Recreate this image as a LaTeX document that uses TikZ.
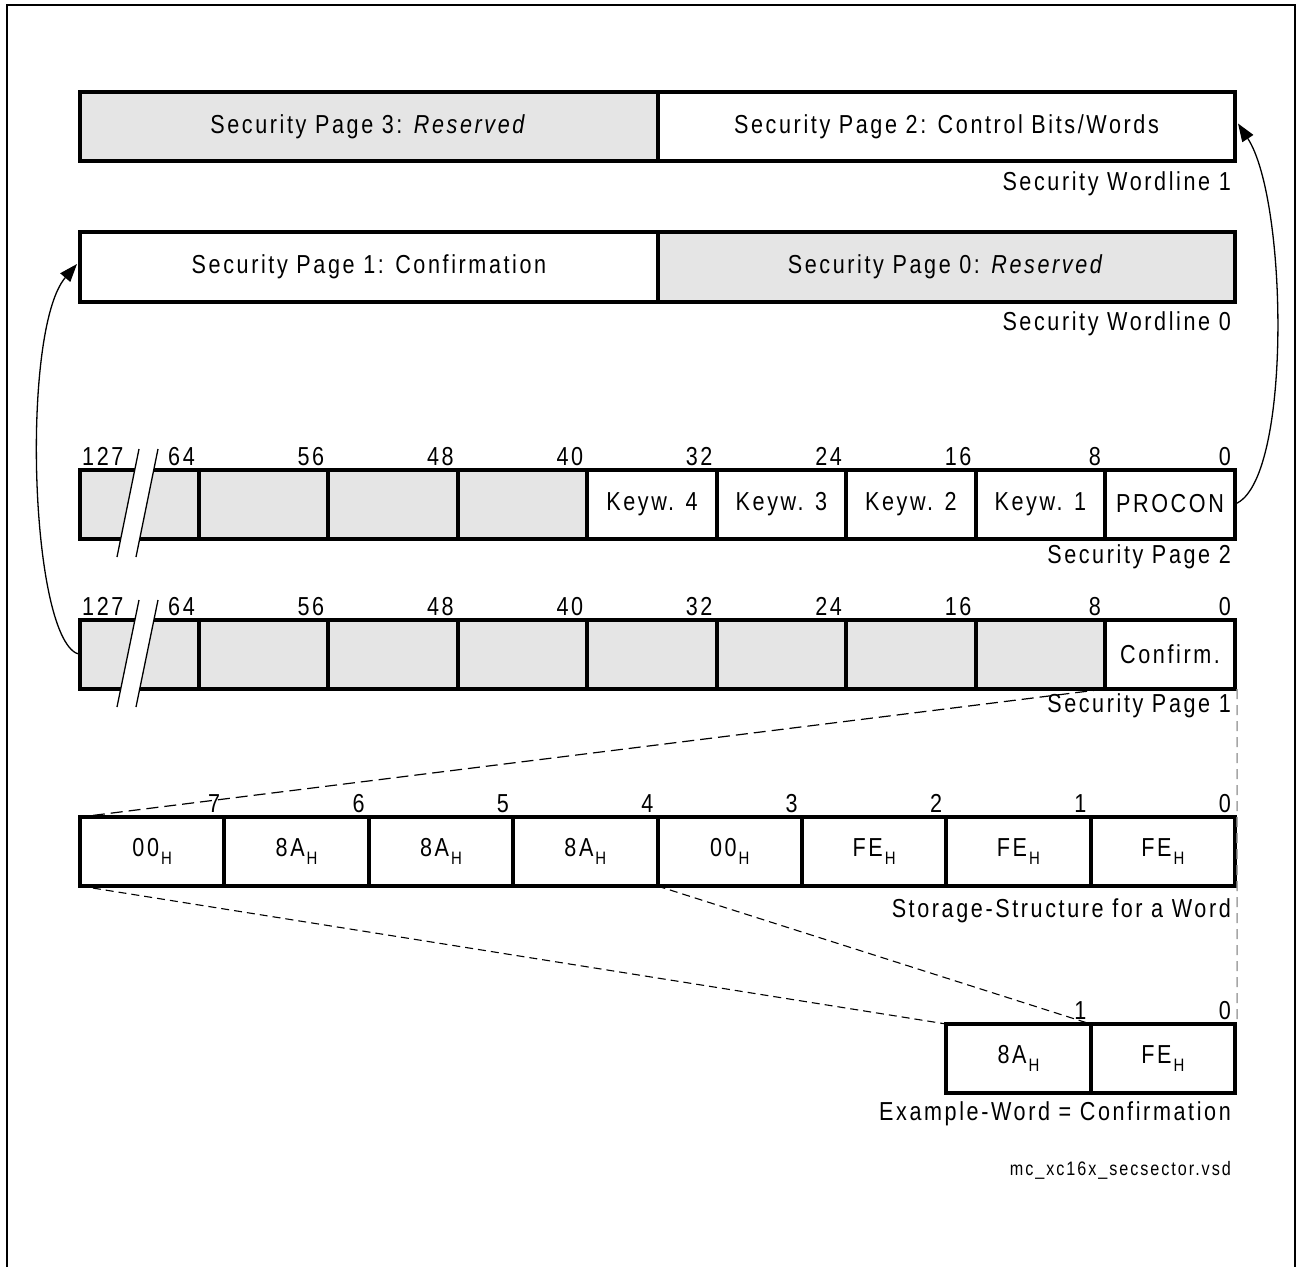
\documentclass[tikz,border=0pt]{standalone}
\usepackage{fontspec}
\setmainfont{Liberation Sans}[FakeStretch=0.83,LetterSpace=10]
\usetikzlibrary{arrows.meta}
\newcommand\mainfs{\fontsize{26}{30}\selectfont}
\newcommand\smallfs{\fontsize{19.5}{23}\selectfont}
\newcommand\hsub{\hspace{2pt}\raisebox{-8pt}{\fontsize{18}{18}\selectfont H}}
\begin{document}
\begin{tikzpicture}[x=1pt,y=-1pt,
  box/.style={draw, line width=4pt, outer sep=0pt, inner sep=0pt, minimum height=69pt, font=\mainfs, fill=white},
  graybox/.style={box, fill=gray!20},
  bitlbl/.style={anchor=base east, inner sep=0pt, font=\mainfs},
  caption/.style={anchor=base east, inner sep=0pt, font=\mainfs},
  conn/.style={line width=1.3pt, -{Triangle[length=18pt,width=13pt]}},
  zoomline/.style={line width=1.2pt, dash pattern=on 12pt off 6pt},
  zoomline2/.style={line width=1.1pt, dash pattern=on 8pt off 5pt},
  guide/.style={line width=1.5pt, draw=gray!70, dash pattern=on 10pt off 6pt},
  breakline/.style={line width=1.3pt}
]
\useasboundingbox (0,0) rectangle (1297,1267);
% outer frame
\draw[line width=2pt] (7,1267) -- (7,5) -- (1295,5) -- (1295,1267);

% Security Wordline 1
\node[graybox, minimum width=578pt] (w3) at (369,126.5) {Security Page 3: \textit{Reserved}};
\node[box, minimum width=577pt] (w2) at (946.5,126.5) {Security Page 2: Control Bits/Words};
\node[caption] (cw1) at (1231,190) {Security Wordline 1};

% Security Wordline 0
\node[box, minimum width=578pt, minimum height=70pt] (w1) at (369,267) {Security Page 1: Confirmation};
\node[graybox, minimum width=577pt, minimum height=70pt] (w0) at (946.5,267) {Security Page 0: \textit{Reserved}};
\node[caption] (cw0) at (1231,330) {Security Wordline 0};

% Security Page 2 row
\begin{scope}[every node/.append style={minimum height=68pt}]
\node[graybox, minimum width=119pt]   (p2c9) at (139.5,504) {};
\node[graybox, minimum width=129.4pt] (p2c8) at (263.7,504) {};
\node[graybox, minimum width=129.5pt] (p2c7) at (393.15,504) {};
\node[graybox, minimum width=129.4pt] (p2c6) at (522.6,504) {};
\node[box, minimum width=129.4pt] (p2c5) at (652,504) {Keyw. 4};
\node[box, minimum width=129.4pt] (p2c4) at (781.4,504) {Keyw. 3};
\node[box, minimum width=129.5pt] (p2c3) at (910.85,504) {Keyw. 2};
\node[box, minimum width=129.4pt] (p2c2) at (1040.3,504) {Keyw. 1};
\node[box, minimum width=130pt]   (p2c1) at (1170,504) {PROCON};
\end{scope}
\node[anchor=base west, inner sep=0pt, font=\mainfs] (p2n127) at (82,465) {127};
\node[bitlbl] (p2n64) at (195,465) {64};
\node[bitlbl] (p2n56) at (324.4,465) {56};
\node[bitlbl] (p2n48) at (453.9,465) {48};
\node[bitlbl] (p2n40) at (583.3,465) {40};
\node[bitlbl] (p2n32) at (712.7,465) {32};
\node[bitlbl] (p2n24) at (842.1,465) {24};
\node[bitlbl] (p2n16) at (971.6,465) {16};
\node[bitlbl] (p2n8) at (1101,465) {8};
\node[bitlbl] (p2n0) at (1231,465) {0};
\node[caption] (cp2) at (1231,563) {Security Page 2};
% break mark row 2
\fill[white] (139,449) -- (158,449) -- (136,557) -- (117,557) -- cycle;
\draw[breakline] (139,449) -- (117,557);
\draw[breakline] (158,449) -- (136,557);

% Security Page 1 row
\node[graybox, minimum width=119pt]   (p1c9) at (139.5,654.5) {};
\node[graybox, minimum width=129.4pt] (p1c8) at (263.7,654.5) {};
\node[graybox, minimum width=129.5pt] (p1c7) at (393.15,654.5) {};
\node[graybox, minimum width=129.4pt] (p1c6) at (522.6,654.5) {};
\node[graybox, minimum width=129.4pt] (p1c5) at (652,654.5) {};
\node[graybox, minimum width=129.4pt] (p1c4) at (781.4,654.5) {};
\node[graybox, minimum width=129.5pt] (p1c3) at (910.85,654.5) {};
\node[graybox, minimum width=129.4pt] (p1c2) at (1040.3,654.5) {};
\node[box, minimum width=130pt]       (p1c1) at (1170,654.5) {Confirm.};
\node[anchor=base west, inner sep=0pt, font=\mainfs] (p1n127) at (82,615) {127};
\node[bitlbl] (p1n64) at (195,615) {64};
\node[bitlbl] (p1n56) at (324.4,615) {56};
\node[bitlbl] (p1n48) at (453.9,615) {48};
\node[bitlbl] (p1n40) at (583.3,615) {40};
\node[bitlbl] (p1n32) at (712.7,615) {32};
\node[bitlbl] (p1n24) at (842.1,615) {24};
\node[bitlbl] (p1n16) at (971.6,615) {16};
\node[bitlbl] (p1n8) at (1101,615) {8};
\node[bitlbl] (p1n0) at (1231,615) {0};
\node[caption] (cp1) at (1231,712) {Security Page 1};
% break mark row 1
\fill[white] (139,600) -- (158,600) -- (136,707) -- (117,707) -- cycle;
\draw[breakline] (139,600) -- (117,707);
\draw[breakline] (158,600) -- (136,707);

% Storage structure
\begin{scope}[every node/.append style={minimum width=144.375pt}]
\node[box] (s7) at (152.19,851.5) {00\hsub};
\node[box] (s6) at (296.56,851.5) {8A\hsub};
\node[box] (s5) at (440.94,851.5) {8A\hsub};
\node[box] (s4) at (585.31,851.5) {8A\hsub};
\node[box] (s3) at (729.69,851.5) {00\hsub};
\node[box] (s2) at (874.06,851.5) {FE\hsub};
\node[box] (s1) at (1018.44,851.5) {FE\hsub};
\node[box] (s0) at (1162.81,851.5) {FE\hsub};
\end{scope}
\node[bitlbl] (sn7) at (220.4,812) {7};
\node[bitlbl] (sn6) at (364.75,812) {6};
\node[bitlbl] (sn5) at (509.1,812) {5};
\node[bitlbl] (sn4) at (653.5,812) {4};
\node[bitlbl] (sn3) at (797.9,812) {3};
\node[bitlbl] (sn2) at (942.25,812) {2};
\node[bitlbl] (sn1) at (1086.6,812) {1};
\node[bitlbl] (sn0) at (1231,812) {0};
\node[caption] (cs) at (1231,917) {Storage-Structure for a Word};

% Example word
\node[box, minimum width=144.375pt] (e1) at (1018.44,1058.5) {8A\hsub};
\node[box, minimum width=144.375pt] (e0) at (1162.81,1058.5) {FE\hsub};
\node[bitlbl] (en1) at (1086.6,1019) {1};
\node[bitlbl] (en0) at (1231,1019) {0};
\node[caption] (ce) at (1231,1120) {Example-Word = Confirmation};
\node[anchor=base east, inner sep=0pt, font=\smallfs] (fname) at (1231,1175) {mc\_xc16x\_secsector.vsd};

% zoom lines
\draw[zoomline] (p1c1.south west) -- (s7.north west);
\draw[zoomline2] (s7.south west) -- (e1.north west);
\draw[zoomline2] (s3.south west) -- (e1.north east);
\draw[guide] ([xshift=2pt]p1c1.south east) -- ([xshift=2pt]e0.north east);

% connectors
\draw[conn] (p2c1.east) .. controls (1292,482) and (1288,200) .. ([xshift=3pt,yshift=3pt]w2.east);
\draw[conn] (p1c9.west) .. controls (30,645) and (20,330) .. ([xshift=-3pt,yshift=3pt]w1.west);
\end{tikzpicture}
\end{document}
